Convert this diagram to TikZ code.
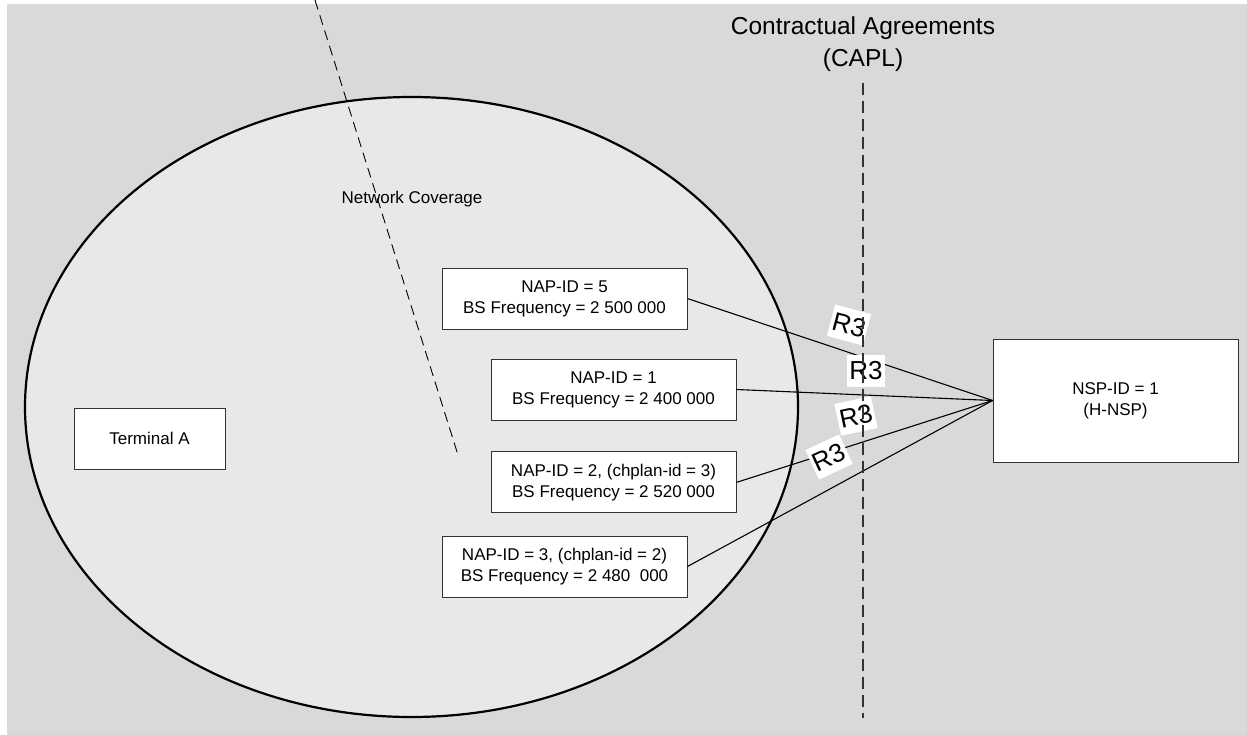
\documentclass[tikz,border=0pt]{standalone}
\usepackage{fontspec}
\setmainfont{Liberation Sans}
\usetikzlibrary{positioning}

\definecolor{bggray}{HTML}{D9D9D9}
\definecolor{covergray}{HTML}{E8E8E8}

\tikzset{
  napbox/.style={draw=black!80, fill=white, line width=0.9pt, minimum width=245pt,
    minimum height=61pt, align=center, inner sep=0pt, font=\fontsize{17}{21}\selectfont},
  link/.style={line width=1.1pt},
  rlabel/.style={fill=white, inner xsep=2pt, inner ysep=7pt, font=\fontsize{26}{26}\selectfont},
}

\begin{document}
\begin{tikzpicture}[x=1pt, y=-1pt]
        \useasboundingbox (0,0) rectangle (1247,735);
        \fill[bggray] (7,4) rectangle (1247,735);

        % coverage area
        \draw[line width=2.2pt, fill=covergray] (411.5,407) ellipse [x radius=386.5pt, y radius=310pt];
        \coordinate (cuttop) at (315,0);
        \coordinate (cutend) at (458,455);
        \draw[dash pattern=on 10pt off 6pt, line width=0.9pt] (cuttop) -- (cutend);
        \node (cover) [font=\fontsize{17}{20}\selectfont] at (412,199) {Network Coverage};

        \node (capl) [align=center, font=\fontsize{24.5}{32}\selectfont] at (863,44) {Contractual Agreements\\(CAPL)};

        \node (nap5) [napbox] at (564.5,298.5) {NAP-ID = 5\\BS Frequency = 2 500 000};
        \node (nap1) [napbox] at (613.5,389.5) {NAP-ID = 1\\BS Frequency = 2 400 000};
        \node (nap2) [napbox, below=31pt of nap1] {NAP-ID = 2, (chplan-id = 3)\\BS Frequency = 2 520 000};
        \node (nap3) [napbox] at (564.5,566.5) {NAP-ID = 3, (chplan-id = 2)\\BS Frequency = 2 480\ \ 000};
        \node (term) [napbox, minimum width=151pt] at (149.5,438.5) {Terminal A};
        \node (nsp) [napbox, minimum height=123pt] at (1115.5,400.5) {NSP-ID = 1\\(H-NSP)};

        \draw[link] (nap5.east) -- (nsp.west);
        \draw[link] (nap1.east) -- (nsp.west);
        \draw[link] (nap2.east) -- (nsp.west);
        \draw[link] (nap3.east) -- (nsp.west);

        \node (r5) [rlabel, rotate=-15] at (849,325) {R3};
        \node (r1) [rlabel] at (866,371) {R3};
        \node (r2) [rlabel, rotate=12] at (856,416) {R3};
        \node (r3) [rlabel, rotate=25] at (829,457) {R3};

        % CAPL border
        \coordinate (capltop) at (863,83);
        \coordinate (caplend) at (863,718);
        \draw[dash pattern=on 12pt off 6pt, line width=1.6pt, black!80] (capltop) -- (caplend);

    \end{tikzpicture}
\end{document}
